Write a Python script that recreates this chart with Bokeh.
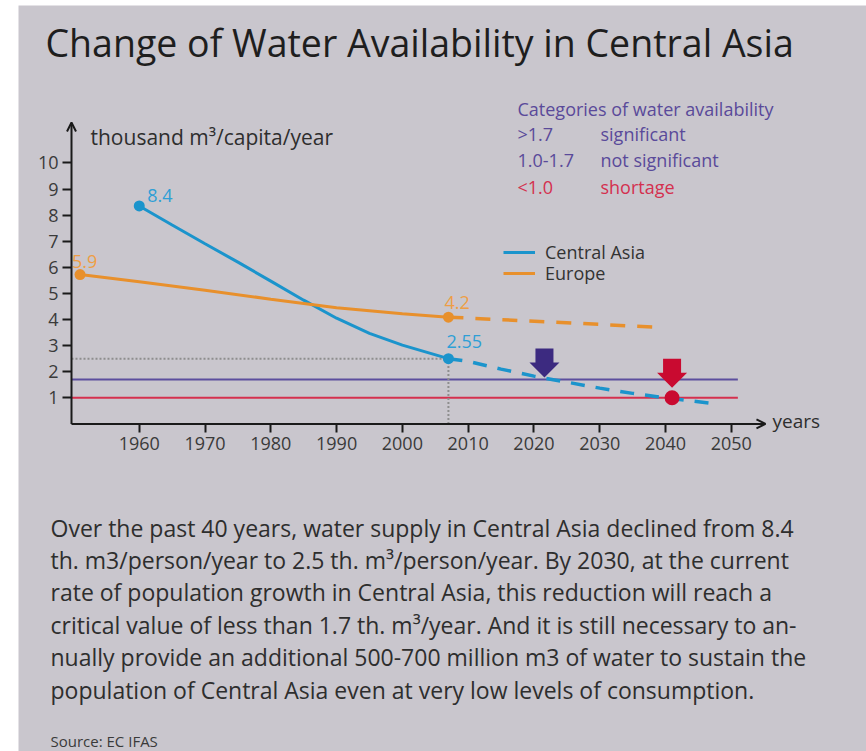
from bokeh.plotting import figure
from bokeh.models import (Label, Range1d, FixedTicker, Arrow, OpenHead, Spacer,
                          Legend, LegendItem)
from bokeh.layouts import row, column
from bokeh.embed import file_html
from bokeh.resources import INLINE
from bokeh.core.properties import value

# ---------------- data ----------------
ca_years = [1960, 1965, 1970, 1975, 1980, 1985, 1990, 1995, 2000, 2007]
ca_values = [8.35, 7.62, 6.9, 6.2, 5.47, 4.74, 4.05, 3.47, 3.02, 2.5]
ca_proj_years = [2007, 2010, 2015, 2020, 2025, 2030, 2035, 2040, 2045, 2048]
ca_proj_values = [2.5, 2.4, 2.1, 1.83, 1.6, 1.37, 1.17, 1.0, 0.85, 0.76]

eu_years = [1951, 1960, 1970, 1980, 1990, 2000, 2007]
eu_values = [5.72, 5.45, 5.12, 4.78, 4.45, 4.22, 4.09]
eu_proj_years = [2007, 2023, 2039]
eu_proj_values = [4.09, 3.9, 3.7]

ca_marked_years = [1960, 2007]
ca_marked_values = [8.35, 2.5]
ca_marked_labels = ["8.4", "2.55"]
eu_marked_years = [1951, 2007]
eu_marked_values = [5.72, 4.09]
eu_marked_labels = ["5.9", "4.2"]

threshold_levels = [1.7, 1.0]
threshold_end = 2051
crossing_years = [2021.6, 2041]
shortage_year = [2041]
shortage_value = [1.0]

axis_x_start, axis_x_end = 1949.7, 2055.2
axis_y_top = 11.55
x_ticks = [1960, 1970, 1980, 1990, 2000, 2010, 2020, 2030, 2040, 2050]
y_ticks = [1, 2, 3, 4, 5, 6, 7, 8, 9, 10]

categories_limits = [">1.7", "1.0-1.7", "<1.0"]
categories_names = ["significant", "not significant", "shortage"]

title_text = "Change of Water Availability in Central Asia"
paragraph = [
    "Over the past 40 years, water supply in Central Asia declined from 8.4",
    "th. m3/person/year to 2.5 th. m\u00b3/person/year. By 2030, at the current",
    "rate of population growth in Central Asia, this reduction will reach a",
    "critical value of less than 1.7 th. m\u00b3/year. And it is still necessary to an-",
    "nually provide an additional 500-700 million m3 of water to sustain the",
    "population of Central Asia even at very low levels of consumption.",
]
source_text = "Source: EC IFAS"

# ---------------- style ----------------
BG = "#C9C6CD"
FONT = "Open Sans"
BLUE = "#1B94CC"
BLUE_T = "#2E9FD6"
ORANGE = "#E8902C"
ORANGE_T = "#EE9E45"
PURPLE_LINE = "#5C4E9E"
PURPLE_ARROW = "#3C2A80"
RED_LINE = "#D5304E"
RED = "#C90A30"
PURPLE_T = "#5A4A9A"
RED_T = "#D4304F"
AXIS = "#1A1A1A"

PAGE_X0, PAGE_Y0 = 18, 5
W, H = 866 - PAGE_X0, 751 - PAGE_Y0
PX_YR = 6.578      # px per year
PX_U = 26.1        # px per unit
AXIS_PAGE_X = 71.0
AXIS_PAGE_Y = 423.4
X0 = axis_x_start - (AXIS_PAGE_X - PAGE_X0) / PX_YR
X1 = X0 + W / PX_YR
Y0 = -((PAGE_Y0 + H) - AXIS_PAGE_Y) / PX_U
Y1 = Y0 + H / PX_U
ux, uy = 1.0 / PX_YR, 1.0 / PX_U

p = figure(width=W, height=H, x_range=Range1d(X0, X1), y_range=Range1d(Y0, Y1),
           output_backend="svg", toolbar_location=None,
           min_border_left=0, min_border_right=0, min_border_top=0, min_border_bottom=0)
p.background_fill_color = BG
p.border_fill_color = BG
p.outline_line_color = None
p.grid.visible = False
p.xaxis.fixed_location = 0
p.yaxis.fixed_location = axis_x_start

for ax in (p.xaxis, p.yaxis):
    ax.axis_line_color = None
    ax.major_tick_line_color = AXIS
    ax.major_tick_line_width = 2
    ax.major_tick_out = 9
    ax.major_tick_in = 0
    ax.minor_tick_line_color = None
    ax.major_label_text_font = FONT
    ax.major_label_text_font_size = "18px"
    ax.major_label_text_color = "#3A3A3A"
    ax.major_label_standoff = 4
p.xaxis.ticker = FixedTicker(ticks=x_ticks)
p.yaxis.ticker = FixedTicker(ticks=y_ticks)

# axis lines with arrow heads
p.add_layout(Arrow(end=OpenHead(size=9, line_width=2, line_color=AXIS),
                   x_start=axis_x_start, y_start=0, x_end=axis_x_end, y_end=0,
                   line_width=2, line_color=AXIS))
p.add_layout(Arrow(end=OpenHead(size=9, line_width=2, line_color=AXIS),
                   x_start=axis_x_start, y_start=0, x_end=axis_x_start, y_end=axis_y_top,
                   line_width=2, line_color=AXIS))

# threshold lines
p.segment(x0=[axis_x_start] * 2, y0=threshold_levels, x1=[threshold_end] * 2, y1=threshold_levels,
          line_color=[PURPLE_LINE, RED_LINE], line_width=2)

# dotted guides to 2007 point
p.segment(x0=[axis_x_start, ca_marked_years[1]], y0=[ca_marked_values[1], 0],
          x1=[ca_marked_years[1], ca_marked_years[1]], y1=[ca_marked_values[1], ca_marked_values[1]],
          line_color="#8E8E8E", line_width=2, line_dash="2 2")

# series
r_ca = p.line(ca_years, ca_values, line_color=BLUE, line_width=3)
p.line(ca_proj_years, ca_proj_values, line_color=BLUE, line_width=3.5, line_dash="14 11")
r_eu = p.line(eu_years, eu_values, line_color=ORANGE, line_width=3)
p.line(eu_proj_years, eu_proj_values, line_color=ORANGE, line_width=3.5, line_dash="15 12")

p.scatter(ca_marked_years, ca_marked_values, size=11, fill_color=BLUE, line_color=None)
p.scatter(eu_marked_years, eu_marked_values, size=11, fill_color=ORANGE, line_color=None)
p.scatter(shortage_year, shortage_value, size=15, fill_color=RED, line_color=None)

# point labels
p.text(ca_marked_years, ca_marked_values, text=ca_marked_labels, x_offset=[8, -2], y_offset=[-10, -17],
       text_font=value(FONT), text_font_size="18px", text_color=BLUE_T,
       text_align="left", text_baseline="middle")
p.text(eu_marked_years, eu_marked_values, text=eu_marked_labels, x_offset=[-8, -4], y_offset=[-13, -15],
       text_font=value(FONT), text_font_size="18px", text_color=ORANGE_T,
       text_align="left", text_baseline="middle")

# down arrows at crossings
tip_gap = [2, 10]
arrow_cols = [PURPLE_ARROW, RED]
shape = [(0, 0), (15, 15), (9, 15), (9, 29), (-9, 29), (-9, 15), (-15, 15)]
xs, ys = [], []
for xc, lvl, g in zip(crossing_years, threshold_levels, tip_gap):
    xs.append([xc + dx * ux for dx, dy in shape])
    ys.append([lvl + (g + dy) * uy for dx, dy in shape])
p.patches(xs, ys, fill_color=arrow_cols, line_color=None)


def sx(px):
    return px - PAGE_X0


def sy(py):
    return (PAGE_Y0 + H) - py


# legends (one per item, to control spacing)
def add_legend(label, rend, center_py):
    lg = Legend(items=[LegendItem(label=label, renderers=[rend])],
                location=(sx(503), sy(center_py + 12)))
    lg.background_fill_alpha = 0
    lg.border_line_color = None
    lg.padding = 0
    lg.margin = 0
    lg.glyph_width = 32
    lg.glyph_height = 20
    lg.label_height = 20
    lg.label_standoff = 10
    lg.label_text_font = FONT
    lg.label_text_font_size = "18px"
    lg.label_text_color = "#333333"
    p.add_layout(lg)


add_legend("Central Asia", r_ca, 251.7)
add_legend("Europe", r_eu, 273.3)


def put(px, py, text, size, color):
    p.add_layout(Label(x=sx(px), y=sy(py), x_units="screen", y_units="screen",
                       text=text, text_font=FONT, text_font_size=size, text_color=color,
                       text_align="left", text_baseline="middle"))


put(45, 42, title_text, "37.5px", "#1E1E1E")
put(90, 136, "thousand m\u00b3/capita/year", "21px", "#2E2E2E")
put(772, 420, "years", "19px", "#2E2E2E")
put(517, 108, "Categories of water availability", "18px", PURPLE_T)
cat_cols = [PURPLE_T, PURPLE_T, RED_T]
for i, (lim, name, c) in enumerate(zip(categories_limits, categories_names, cat_cols)):
    put(517, 133 + 26.5 * i, lim, "18px", c)
    put(600, 133 + 26.5 * i, name, "18px", c)

for i, line in enumerate(paragraph):
    put(50, 527 + 32.4 * i, line, "23px", "#2E2E2E")
put(50, 740, source_text, "15px", "#3A3A3A")

layout = row(Spacer(width=PAGE_X0, height=751),
             column(Spacer(width=W, height=PAGE_Y0), p))
open("out.html", "w").write(file_html(layout, INLINE))
